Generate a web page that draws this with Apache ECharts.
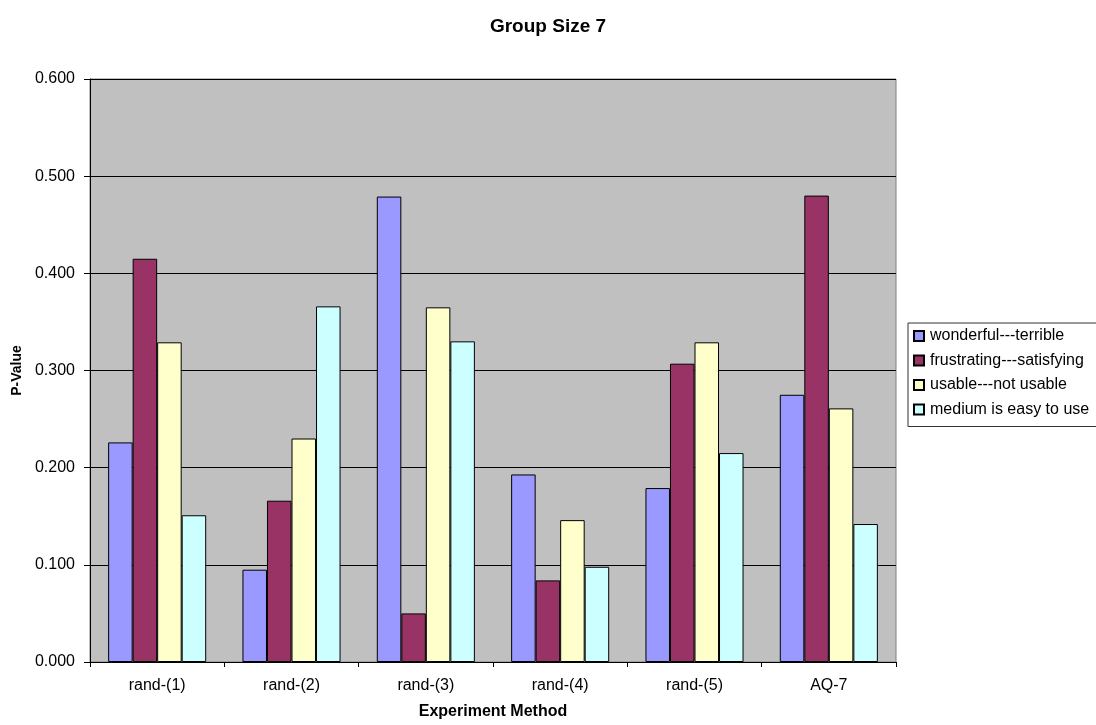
<!DOCTYPE html>
<html>
<head>
<meta charset="utf-8">
<script src="https://cdn.jsdelivr.net/npm/echarts@6/dist/echarts.min.js"></script>
<style>
  html, body { margin: 0; padding: 0; background: #ffffff; }
  #chart { width: 1096px; height: 725px; }
</style>
</head>
<body>
<div id="chart"></div>
<script>
// Experiment methods along the x axis
const categories = ['rand-(1)', 'rand-(2)', 'rand-(3)', 'rand-(4)', 'rand-(5)', 'AQ-7'];

// P-values per question
const wonderfulTerrible = [0.226, 0.095, 0.479, 0.193, 0.179, 0.275];
const frustratingSatisfying = [0.415, 0.166, 0.050, 0.084, 0.307, 0.480];
const usableNotUsable = [0.329, 0.230, 0.365, 0.146, 0.329, 0.261];
const mediumEasyToUse = [0.151, 0.366, 0.330, 0.098, 0.215, 0.142];

const seriesNames = ['wonderful---terrible', 'frustrating---satisfying', 'usable---not usable', 'medium is easy to use'];
const seriesValues = [wonderfulTerrible, frustratingSatisfying, usableNotUsable, mediumEasyToUse];
const seriesColors = ['#9999FF', '#993366', '#FFFFCC', '#CCFFFF'];

const font = 'Arial, "Liberation Sans", sans-serif';

const chart = echarts.init(document.getElementById('chart'));
chart.setOption({
  animation: false,
  backgroundColor: '#ffffff',
  title: {
    text: 'Group Size 7',
    left: 'center',
    top: 12,
    textStyle: { fontFamily: font, fontSize: 19, fontWeight: 'bold', color: '#000' }
  },
  legend: {
    orient: 'vertical',
    left: 908,
    top: 323,
    itemWidth: 10,
    itemHeight: 10,
    itemGap: 8.5,
    padding: [5, 10, 9, 5],
    borderColor: '#333',
    borderWidth: 1,
    backgroundColor: '#fff',
    icon: 'rect',
    textStyle: { fontFamily: font, fontSize: 16, color: '#000', padding: [0, 0, 0, 1] },
    data: seriesNames
  },
  grid: {
    left: 90,
    right: 200,
    top: 79,
    bottom: 60,
    show: true,
    backgroundColor: '#C0C0C0',
    borderColor: '#808080',
    borderWidth: 1
  },
  xAxis: {
    type: 'category',
    data: categories,
    name: 'Experiment Method',
    nameLocation: 'middle',
    nameGap: 42,
    nameTextStyle: { fontFamily: font, fontSize: 16, fontWeight: 'bold', color: '#000' },
    axisLine: { lineStyle: { color: '#000', width: 1 } },
    axisTick: { show: true, alignWithLabel: false, length: 5, lineStyle: { color: '#000' } },
    axisLabel: { fontFamily: font, fontSize: 16, color: '#000', margin: 16 }
  },
  yAxis: {
    type: 'value',
    min: 0,
    max: 0.6,
    interval: 0.1,
    name: 'P-Value',
    nameLocation: 'middle',
    nameGap: 65,
    nameTextStyle: { fontFamily: font, fontSize: 14, fontWeight: 'bold', color: '#000' },
    axisLine: { show: true, lineStyle: { color: '#000', width: 1 } },
    axisTick: { show: true, length: 6, lineStyle: { color: '#000' } },
    axisLabel: {
      fontFamily: font, fontSize: 16, color: '#000', margin: 15,
      formatter: v => v.toFixed(3)
    },
    splitLine: { show: true, lineStyle: { color: '#000', width: 1 } }
  },
  series: seriesNames.map((name, i) => ({
    name: name,
    type: 'bar',
    data: seriesValues[i],
    barGap: '0%',
    barCategoryGap: '27%',
    itemStyle: { color: seriesColors[i], borderColor: '#000', borderWidth: 1 }
  }))
});
</script>
</body>
</html>
